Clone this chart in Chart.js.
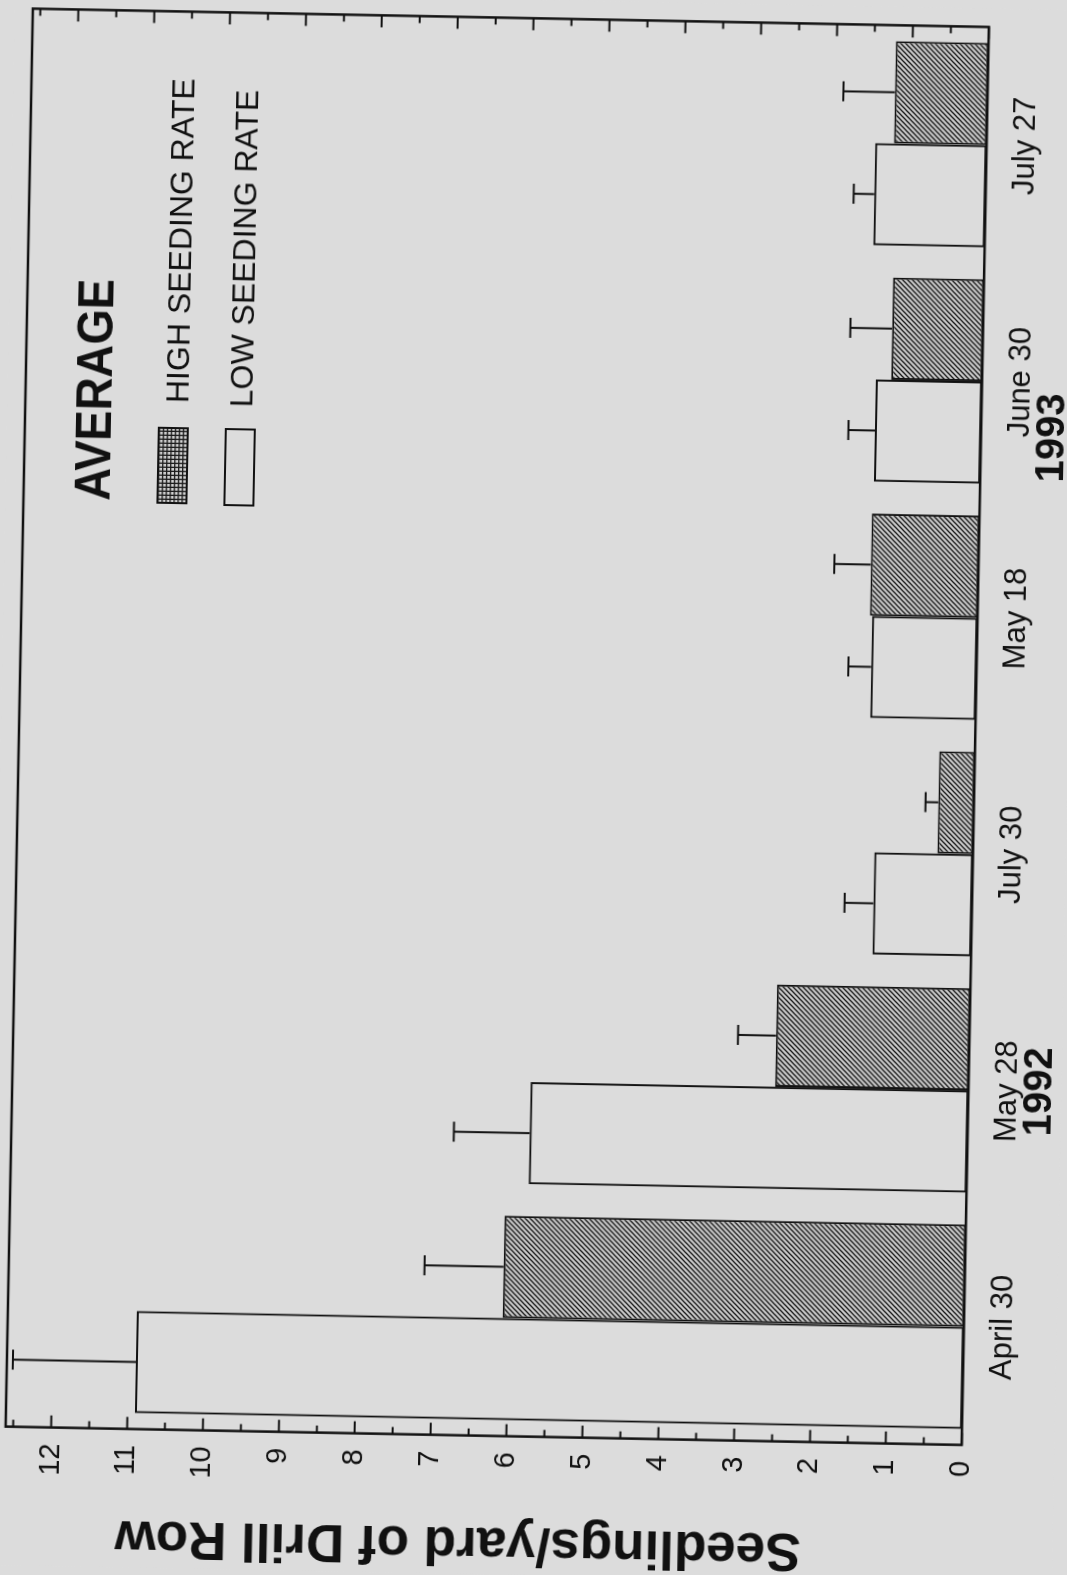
<!DOCTYPE html>
<html><head><meta charset="utf-8">
<script src="https://cdn.jsdelivr.net/npm/chart.js@4.4.1/dist/chart.umd.min.js"></script>
<style>
html,body{margin:0;padding:0;width:1067px;height:1575px;overflow:hidden;background:#dcdcdc;}
#wrap{position:absolute;left:-254px;top:254px;width:1575px;height:1067px;transform:rotate(-88.9deg);transform-origin:787.5px 533.5px;}
canvas{display:block;}
</style></head><body>
<div id="wrap"><canvas id="c" width="1575" height="1067"></canvas></div>
<script>
// ---- data ----
const categories = ['April 30', 'May 28', 'July 30', 'May 18', 'June 30', 'July 27'];
const lowRate  = [10.9, 5.77, 1.30, 1.39, 1.40, 1.47];
const highRate = [6.08, 2.55, 0.47, 1.42, 1.20, 1.22];
const lowErr   = [1.62, 1.00, 0.38, 0.30, 0.35, 0.27];
const highErr  = [1.04, 0.50, 0.17, 0.48, 0.55, 0.68];
const yearLabels = ['1992', '1993'];
const yearUnder  = ['May 28', 'June 30'];
const seriesNames = ['LOW SEEDING RATE', 'HIGH SEEDING RATE'];
const legendTitle = 'AVERAGE';
const axisTitle = 'Seedlings/yard of Drill Row';
const valueTicks = [0, 1, 2, 3, 4, 5, 6, 7, 8, 9, 10, 11, 12];

const BG = '#dcdcdc';
const INK = '#111';
const FONT = '"Liberation Sans", Arial, sans-serif';
const YEAR_SHIFT = [0, -55]; // text nudge of the year captions, px

function hatchPattern() {
  const t = document.createElement('canvas'); t.width = 5; t.height = 5;
  const g = t.getContext('2d');
  g.fillStyle = '#c8c8c8'; g.fillRect(0, 0, 5, 5);
  g.strokeStyle = '#1a1a1a'; g.lineWidth = 1.3;
  g.beginPath();
  g.moveTo(-1, 6); g.lineTo(6, -1);
  g.moveTo(-1, 1); g.lineTo(1, -1);
  g.moveTo(4, 6); g.lineTo(6, 4);
  g.stroke();
  return g.createPattern(t, 'repeat');
}
function gridPattern(ctx) {
  const t = document.createElement('canvas'); t.width = 4; t.height = 4;
  const g = t.getContext('2d');
  g.fillStyle = '#d0d0d0'; g.fillRect(0, 0, 4, 4);
  g.fillStyle = '#1a1a1a'; g.fillRect(0, 0, 4, 1.3); g.fillRect(0, 0, 1.3, 4);
  return ctx.createPattern(t, 'repeat');
}

const decor = {
  id: 'decor',
  beforeDraw(chart) {
    const ctx = chart.ctx;
    ctx.save(); ctx.fillStyle = BG; ctx.fillRect(0, 0, chart.width, chart.height); ctx.restore();
  },
  afterDatasetsDraw(chart) {
    const { ctx, chartArea: a, scales: { x, y } } = chart;
    ctx.save();
    ctx.strokeStyle = INK;
    // error bars (upper only)
    ctx.lineWidth = 2;
    chart.data.datasets.forEach((ds, di) => {
      const meta = chart.getDatasetMeta(di);
      meta.data.forEach((bar, i) => {
        if (!ds.err[i]) return;
        const top = y.getPixelForValue(ds.data[i] + ds.err[i]);
        ctx.beginPath();
        ctx.moveTo(bar.x, bar.y); ctx.lineTo(bar.x, top);
        ctx.moveTo(bar.x - 10, top); ctx.lineTo(bar.x + 10, top);
        ctx.stroke();
      });
    });
    // frame
    ctx.lineWidth = 2.5;
    ctx.strokeRect(a.left, a.top, a.right - a.left, a.bottom - a.top);
    // inward ticks on both value sides
    ctx.lineWidth = 2;
    for (let k = 0; k <= 25; k++) {
      const v = k / 2;
      const py = y.getPixelForValue(v);
      const len = (k % 2 === 0) ? 12 : 7;
      ctx.beginPath();
      ctx.moveTo(a.left, py); ctx.lineTo(a.left + len, py);
      ctx.moveTo(a.right, py); ctx.lineTo(a.right - len, py);
      ctx.stroke();
    }
    // value-axis title
    ctx.fillStyle = INK;
    ctx.save();
    ctx.translate(31, (a.top + a.bottom) / 2 - 24);
    ctx.rotate(-Math.PI / 2);
    ctx.font = 'bold 53px ' + FONT;
    ctx.textAlign = 'center'; ctx.textBaseline = 'middle';
    ctx.fillText(axisTitle, 0, 0);
    ctx.restore();
    // year labels under categories
    ctx.font = 'bold 40px ' + FONT;
    ctx.textAlign = 'center'; ctx.textBaseline = 'middle';
    yearLabels.forEach((yl, i) => {
      const px = x.getPixelForValue(categories.indexOf(yearUnder[i]));
      ctx.fillText(yl, px + YEAR_SHIFT[i], 1046);
    });
    // legend
    ctx.textAlign = 'left';
    ctx.save();
    ctx.translate(1066, 90);
    ctx.scale(0.91, 1);
    ctx.font = 'bold 50px ' + FONT;
    ctx.fillText(legendTitle, 0, 0);
    ctx.restore();
    ctx.font = '32px ' + FONT;
    ctx.fillText(seriesNames[1], 1165, 172);
    ctx.fillText(seriesNames[0], 1162, 236);
    ctx.fillStyle = gridPattern(ctx);
    ctx.fillRect(1065, 152, 75, 29);
    ctx.lineWidth = 2;
    ctx.strokeRect(1065, 152, 75, 29);
    ctx.strokeRect(1064, 219, 76, 29);
    ctx.restore();
  }
};

new Chart(document.getElementById('c'), {
  type: 'bar',
  data: {
    labels: categories,
    datasets: [
      { label: seriesNames[0], data: lowRate, err: lowErr,
        backgroundColor: 'rgba(0,0,0,0)', borderColor: INK, borderWidth: 2, borderSkipped: false },
      { label: seriesNames[1], data: highRate, err: highErr,
        backgroundColor: hatchPattern(), borderColor: INK, borderWidth: 2, borderSkipped: false }
    ]
  },
  options: {
    responsive: false, animation: false, devicePixelRatio: 1,
    layout: { padding: { left: 0, top: 18, right: 18.4, bottom: 0 } },
    plugins: { legend: { display: false }, tooltip: { enabled: false } },
    datasets: { bar: { categoryPercentage: 0.865, barPercentage: 1.0 } },
    scales: {
      x: {
        grid: { display: false, drawTicks: false }, border: { display: false },
        ticks: { color: INK, padding: 21, font: { family: FONT, size: 31 } },
        afterFit(s) { s.height = 92.8; s.paddingLeft = 0; s.paddingRight = 0; }
      },
      y: {
        min: 0, max: 12.6,
        grid: { display: false, drawTicks: false }, border: { display: false },
        afterBuildTicks(s) { s.ticks = valueTicks.map(v => ({ value: v })); },
        ticks: { color: INK, padding: 16, font: { family: FONT, size: 29 } },
        title: { display: false, text: axisTitle },
        afterFit(s) { s.width = 138.4; s.paddingTop = 0; s.paddingBottom = 0; }
      }
    }
  },
  plugins: [decor]
});
</script>
</body></html>
